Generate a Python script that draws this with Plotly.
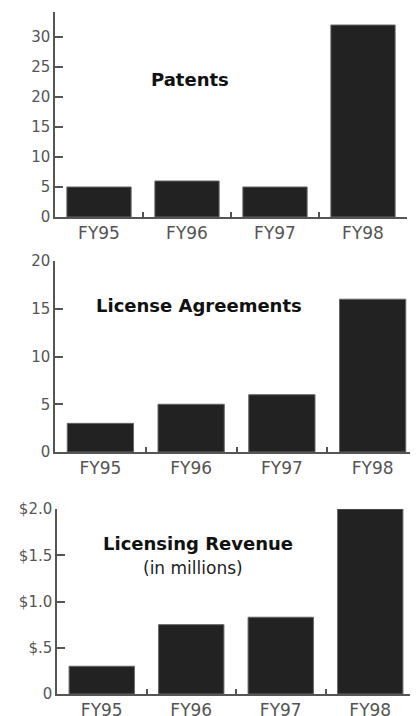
import plotly.graph_objects as go

years = ["FY95", "FY96", "FY97", "FY98"]
patents = [5, 6, 5, 32]
licenses = [3, 5, 6, 16]
revenue = [0.30, 0.75, 0.83, 2.0]

# The page body adds an 8px margin around the figure; pixel targets below are
# measured in window coordinates and shifted by that offset.
OFF = 8
W, H = 418 - OFF, 716 - OFF

def px_x(p):
    return min(1.0, (p - OFF) / W)

def px_y(p):
    return 1 - (p - OFF) / H

fig = go.Figure()

bar_style = dict(marker=dict(color="#222222", line=dict(color="#666666", width=1)),
                 width=0.73, showlegend=False, hoverinfo="x+y")

fig.add_trace(go.Bar(x=years, y=patents, xaxis="x", yaxis="y", **bar_style))
fig.add_trace(go.Bar(x=years, y=licenses, xaxis="x2", yaxis="y2", **bar_style))
fig.add_trace(go.Bar(x=years, y=revenue, xaxis="x3", yaxis="y3", **bar_style))

tick_font = dict(family="DejaVu Sans", size=15, color="#555555")
xfont = dict(family="DejaVu Sans", size=17, color="#555555")

def xaxis(domain, anchor):
    return dict(domain=domain, anchor=anchor, type="category", range=[-0.5, 3.5],
                showline=True, linecolor="#555555", linewidth=1.5,
                ticks="inside", ticklen=5, tickcolor="#555555", tickwidth=1.5,
                tickson="boundaries", showgrid=False, zeroline=False,
                tickfont=xfont, fixedrange=True, automargin=False)

def yaxis(domain, anchor, rng, tickvals, ticktext):
    return dict(domain=domain, anchor=anchor, range=rng,
                showline=True, linecolor="#555555", linewidth=1.5,
                ticks="inside", ticklen=8, tickcolor="#555555", tickwidth=1.5,
                tickvals=tickvals, ticktext=ticktext, showgrid=False,
                zeroline=False, tickfont=tick_font, fixedrange=True,
                automargin=False)

# x-axis 2 extends past the window edge in the reference (category width 91px)
x2_right = (55 + 4 * 91 - OFF) / W

fig.update_layout(
    width=W, height=H,
    margin=dict(l=0, r=0, t=0, b=0, autoexpand=False),
    paper_bgcolor="white", plot_bgcolor="white",
    bargap=0.27,
    xaxis=xaxis([px_x(55), px_x(407)], "y"),
    yaxis=yaxis([px_y(217), px_y(12)], "x", [0, 34.17],
                [0, 5, 10, 15, 20, 25, 30], ["0", "5", "10", "15", "20", "25", "30"]),
    xaxis2=xaxis([px_x(55), min(1.0, x2_right)], "y2"),
    yaxis2=yaxis([px_y(452), px_y(261)], "x2", [0, 20],
                 [0, 5, 10, 15, 20], ["0", "5", "10", "15", "20"]),
    xaxis3=xaxis([px_x(57), px_x(415)], "y3"),
    yaxis3=yaxis([px_y(694), px_y(509)], "x3", [0, 2.0],
                 [0, 0.5, 1.0, 1.5, 2.0], ["0", "$.5", "$1.0", "$1.5", "$2.0"]),
)

title_font = dict(family="DejaVu Sans", size=18, color="#111111")
anns = [
    ("<b>Patents</b>", 190, 79, title_font),
    ("<b>License Agreements</b>", 199, 305, title_font),
    ("<b>Licensing Revenue</b>", 198, 543, title_font),
    ("(in millions)", 193, 568, dict(family="DejaVu Sans", size=17, color="#222222")),
]
for text, x, y, f in anns:
    fig.add_annotation(text=text, x=px_x(x), y=px_y(y), xref="paper", yref="paper",
                       showarrow=False, font=f, xanchor="center", yanchor="middle")

fig.write_html("out.html")
